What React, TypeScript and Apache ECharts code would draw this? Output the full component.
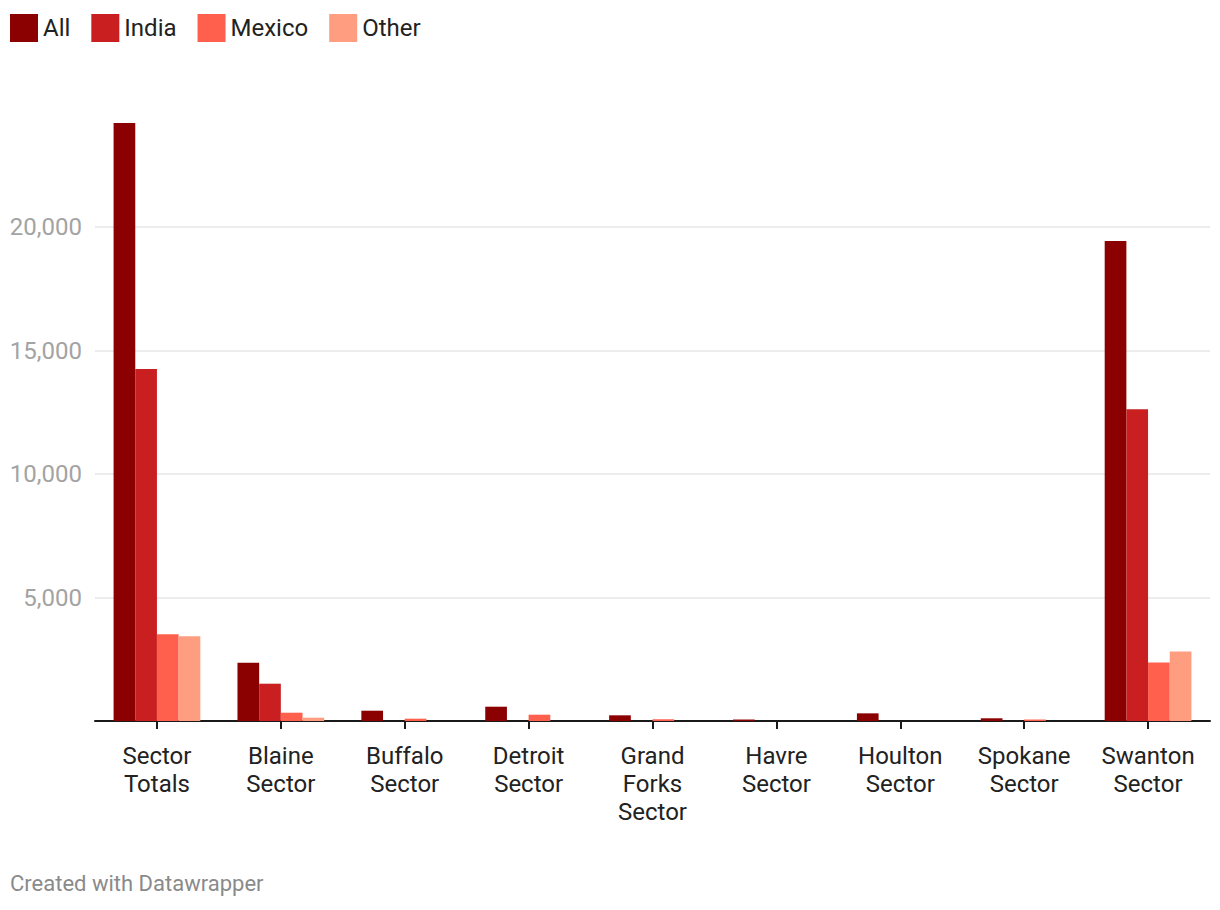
import React, { useEffect, useRef } from "react";
import * as echarts from "echarts";

const categories = [
  "Sector\nTotals",
  "Blaine\nSector",
  "Buffalo\nSector",
  "Detroit\nSector",
  "Grand\nForks\nSector",
  "Havre\nSector",
  "Houlton\nSector",
  "Spokane\nSector",
  "Swanton\nSector",
];
const seriesNames = ["All", "India", "Mexico", "Other"];
const allValues = [24207, 2360, 417, 579, 230, 60, 310, 110, 19432];
const indiaValues = [14251, 1510, 0, 0, 0, 0, 0, 0, 12622];
const mexicoValues = [3516, 336, 93, 255, 70, 0, 0, 60, 2365];
const otherValues = [3430, 134, 0, 0, 0, 0, 0, 0, 2811];
const colors = ["#8b0000", "#c91f20", "#ff604d", "#ff9d80"];
const yMax = 25000;
const yInterval = 5000;

export default function App() {
  const ref = useRef<HTMLDivElement>(null);
  useEffect(() => {
    document.body.style.margin = "0";
    if (!ref.current) return;
    const chart = echarts.init(ref.current, undefined, { renderer: "svg" });
    const data = [allValues, indiaValues, mexicoValues, otherValues];
    const font = "Roboto, sans-serif";
    chart.setOption({
      animation: false,
      backgroundColor: "#ffffff",
      textStyle: { fontFamily: font },
      legend: {
        left: 10,
        top: 14,
        itemWidth: 28,
        itemHeight: 28,
        itemGap: 21,
        icon: "rect",
        padding: 0,
        textStyle: { fontSize: 24, color: "#222222", fontFamily: font },
        data: seriesNames,
      },
      grid: { left: 95, right: 10, top: 103.5, bottom: 189, containLabel: false },
      xAxis: {
        type: "category",
        data: categories,
        axisLine: { show: true, lineStyle: { color: "#1a1a1a", width: 2 } },
        axisTick: { show: true, alignWithLabel: true, length: 8, lineStyle: { color: "#1a1a1a", width: 2 } },
        axisLabel: { fontSize: 24, color: "#222222", lineHeight: 28, margin: 21, interval: 0, fontFamily: font },
      },
      yAxis: {
        type: "value",
        min: 0,
        max: yMax,
        interval: yInterval,
        axisLine: { show: false },
        axisTick: { show: false },
        axisLabel: {
          fontSize: 24,
          color: "#a3a3a3",
          margin: 13,
          fontFamily: font,
          formatter: (v: number) => (v === 0 || v === yMax ? "" : v.toLocaleString("en-US")),
        },
        splitLine: {
          show: true,
          lineStyle: {
            color: ["#e6e6e6", "#e6e6e6", "#e6e6e6", "#e6e6e6", "#e6e6e6", "rgba(0,0,0,0)"],
            width: 1.5,
          },
        },
      },
      series: seriesNames.map((name, i) => ({
        name,
        type: "bar",
        data: data[i],
        itemStyle: { color: colors[i] },
        barGap: "0%",
        barCategoryGap: "30%",
      })),
      graphic: [
        {
          type: "text",
          left: 10,
          top: 872,
          style: { text: "Created with Datawrapper", fontSize: 22, fill: "#8a8a8a", fontFamily: font },
        },
      ],
    });
    return () => chart.dispose();
  }, []);
  return <div ref={ref} style={{ width: 1220, height: 910 }} />;
}
